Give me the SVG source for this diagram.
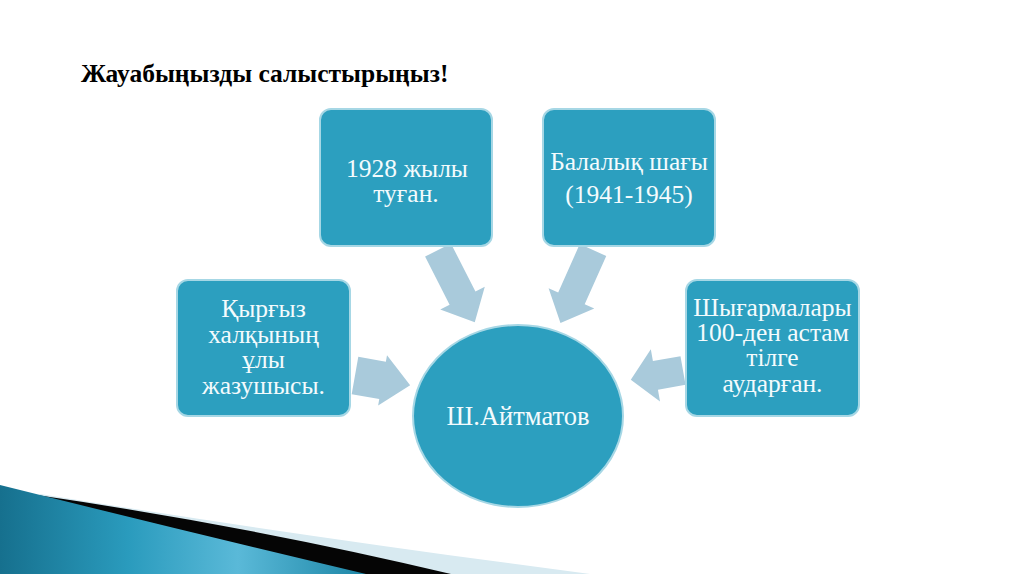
<svg xmlns="http://www.w3.org/2000/svg" width="1024" height="574" viewBox="0 0 1024 574">
<defs>
<style>
.box{fill:#2c9fbf;stroke:#a6d7e5;stroke-width:2}
.t{font-family:"Liberation Serif","Times New Roman",serif;font-size:25.5px;fill:#f4fbfd;text-anchor:middle}
.arrow{fill:#a9cadb}
</style>
<linearGradient id="sw" x1="0" y1="0" x2="1" y2="0">
<stop offset="0" stop-color="#16708e"/>
<stop offset="0.35" stop-color="#2a9bbd"/>
<stop offset="0.65" stop-color="#5ab9d8"/>
<stop offset="1" stop-color="#1d86a6"/>
</linearGradient>
</defs>
<rect width="1024" height="574" fill="#ffffff"/>
<g id="swoosh">
<path d="M40,494 Q300,536 590,574 L0,574 Z" fill="#d8eaf1"/>
<path d="M30,494 Q250,526 451,574 L0,574 Z" fill="#050505"/>
<path d="M0,485 Q180,530 366,574 L0,574 Z" fill="url(#sw)"/>
</g>
<text id="title" x="81" y="82" font-family="Liberation Serif,Times New Roman,serif" font-size="25.5" font-weight="bold" fill="#000">Жауабыңызды салыстырыңыз!</text>
<g id="connectors">
<path class="arrow" transform="translate(438,250) rotate(63)" d="M0,-14.5 L54,-14.5 L54,-25 L81,0 L54,25 L54,14.5 L0,14.5 Z"/>
<path class="arrow" transform="translate(593,250) rotate(114)" d="M0,-14.5 L53,-14.5 L53,-25 L80,0 L53,25 L53,14.5 L0,14.5 Z"/>
<path class="arrow" transform="translate(355,375.5) rotate(10)" d="M0,-19 L28,-19 L28,-25.5 L56,0 L28,25.5 L28,19 L0,19 Z"/>
<path class="arrow" transform="translate(683,370.5) rotate(170)" d="M0,-14.5 L28,-14.5 L28,-26.5 L53,0 L28,26.5 L28,14.5 L0,14.5 Z"/>
</g>
<g id="n-born">
<rect class="box" x="320" y="109" width="172" height="137" rx="11"/>
<text class="t" x="407" y="177">1928 жылы</text>
<text class="t" x="406" y="202">туған.</text>
</g>
<g id="n-child">
<rect class="box" x="543" y="109" width="172" height="137" rx="11"/>
<text class="t" x="629" y="170">Балалық шағы</text>
<text class="t" x="629" y="203">(1941-1945)</text>
</g>
<g id="n-writer">
<rect class="box" x="177" y="280" width="173" height="136" rx="11"/>
<text class="t" x="263.5" y="317">Қырғыз</text>
<text class="t" x="263.5" y="343">халқының</text>
<text class="t" x="263.5" y="368">ұлы</text>
<text class="t" x="263.5" y="394">жазушысы.</text>
</g>
<g id="n-works">
<rect class="box" x="686" y="280" width="173" height="136" rx="11"/>
<text class="t" x="772.5" y="316">Шығармалары</text>
<text class="t" x="772.5" y="341">100-ден астам</text>
<text class="t" x="772.5" y="366">тілге</text>
<text class="t" x="772.5" y="392">аударған.</text>
</g>
<g id="n-center">
<ellipse cx="518" cy="416" rx="105" ry="91" fill="#2c9fbf" stroke="#a6d7e5" stroke-width="2"/>
<text class="t" x="518" y="425" font-size="26.5" style="font-size:26.5px">Ш.Айтматов</text>
</g>
</svg>
